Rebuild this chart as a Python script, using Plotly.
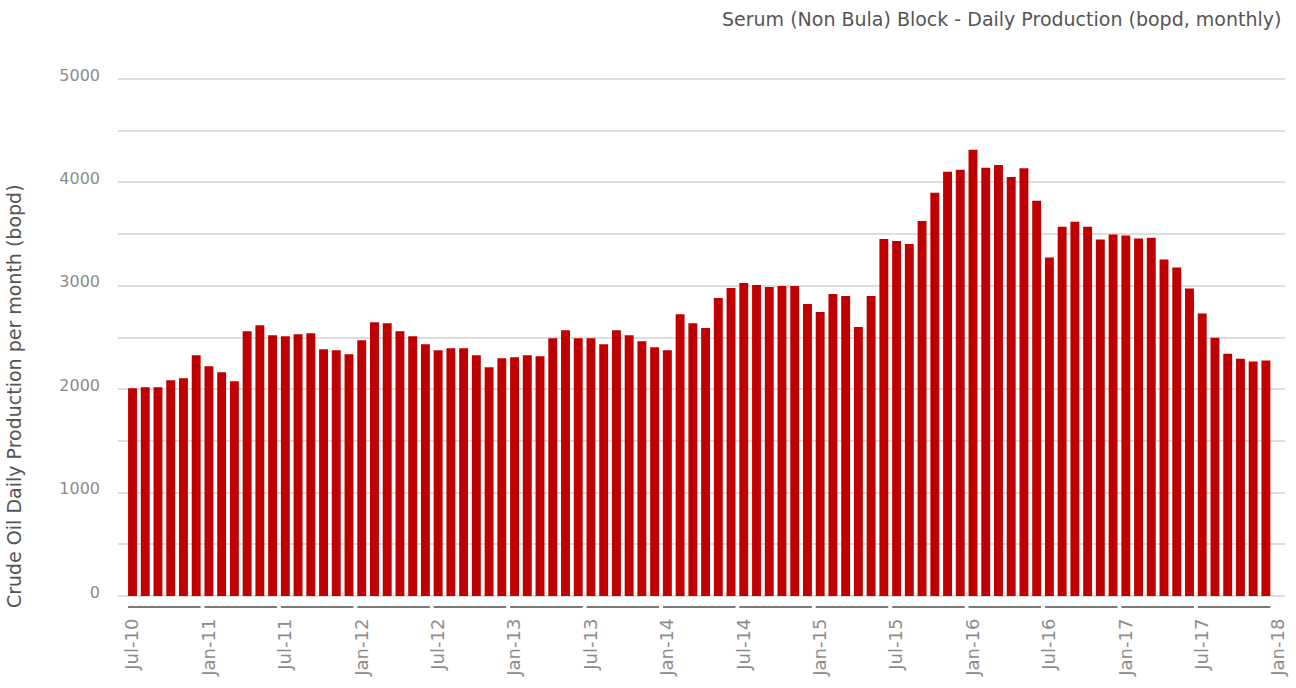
import plotly.graph_objects as go

months = ["Jan", "Feb", "Mar", "Apr", "May", "Jun", "Jul", "Aug", "Sep", "Oct", "Nov", "Dec"]

# Monthly daily production (bopd), Jul-2010 .. Dec-2017
production = [
    2010, 2019, 2019, 2087, 2106, 2329,          # Jul-10 .. Dec-10
    2223, 2165, 2077, 2561, 2619, 2523,          # Jan-11 .. Jun-11
    2513, 2532, 2542, 2387, 2377, 2339,          # Jul-11 .. Dec-11
    2474, 2648, 2639, 2561, 2513, 2435,          # Jan-12 .. Jun-12
    2377, 2397, 2397, 2329, 2213, 2300,          # Jul-12 .. Dec-12
    2310, 2329, 2319, 2494, 2571, 2494,          # Jan-13 .. Jun-13
    2494, 2435, 2571, 2523, 2465, 2406,          # Jul-13 .. Dec-13
    2377, 2726, 2639, 2591, 2882, 2979,          # Jan-14 .. Jun-14
    3028, 3008, 2989, 2999, 2999, 2824,          # Jul-14 .. Dec-14
    2747, 2921, 2902, 2602, 2902, 3454,          # Jan-15 .. Jun-15
    3434, 3405, 3628, 3899, 4103, 4122,          # Jul-15 .. Dec-15
    4316, 4141, 4168, 4052, 4138, 3823,          # Jan-16 .. Jun-16
    3273, 3572, 3620, 3572, 3448, 3496,          # Jul-16 .. Dec-16
    3486, 3458, 3465, 3255, 3176, 2973,          # Jan-17 .. Jun-17
    2732, 2498, 2343, 2295, 2268, 2278,          # Jul-17 .. Dec-17
]

start_year, start_month = 2010, 7
tick_step = 6
y_ticks = [0, 500, 1000, 1500, 2000, 2500, 3000, 3500, 4000, 4500, 5000]
y_ticktext = [str(v) if v % 1000 == 0 else "" for v in y_ticks]

title_text = "Serum (Non Bula) Block - Daily Production (bopd, monthly)"
ytitle_text = "Crude Oil Daily Production per month (bopd)"

n = len(production)
x_idx = list(range(n))

def month_label(i):
    m = start_month - 1 + i
    y = start_year + m // 12
    return f"{months[m % 12]}-{y % 100:02d}"

tickvals = list(range(0, n + 1, tick_step))
ticktext = [month_label(i) for i in tickvals]

FONT = "DejaVu Sans"

fig = go.Figure()
fig.add_trace(go.Bar(
    x=x_idx, y=production,
    marker=dict(color="#c00000", line=dict(width=0)),
    hovertext=[month_label(i) for i in x_idx],
))

# group underline segments (one per 6-month group)
shapes = []
for g in range(0, n, tick_step):
    shapes.append(dict(
        type="line", xref="x", yref="paper",
        x0=g - 0.35, x1=min(g + tick_step, n) - 1 + 0.35,
        y0=-0.021, y1=-0.021,
        line=dict(color="#7a7a7a", width=2),
    ))

fig.update_layout(
    width=1296, height=688,
    margin=dict(l=118, r=11, t=78, b=92),
    paper_bgcolor="white", plot_bgcolor="white",
    bargap=0.3,
    showlegend=False,
    font=dict(family=FONT, color="#888888"),
    shapes=shapes,
    xaxis=dict(
        range=[-1.14, 90.5], automargin=False,
        tickmode="array", tickvals=tickvals, ticktext=ticktext,
        tickangle=-90, showgrid=False, zeroline=False, showline=False,
        ticks="", ticklabelstandoff=18,
        tickfont=dict(family=FONT, size=18, color="#8c8c8c"),
    ),
    yaxis=dict(
        range=[0, 5010], automargin=False,
        tickmode="array", tickvals=y_ticks, ticktext=y_ticktext,
        showgrid=True, gridcolor="#dedede", gridwidth=1.5,
        zeroline=True, zerolinecolor="#dedede", zerolinewidth=1.5,
        showline=False, ticks="", ticklabelstandoff=17, ticklabelshift=-4,
        tickfont=dict(family=FONT, size=16, color="#8c8c8c"),
    ),
    annotations=[
        dict(text=title_text, xref="paper", yref="paper",
             x=0.998, y=1.113, xanchor="right", yanchor="middle",
             showarrow=False, font=dict(family=FONT, size=19, color="#555555")),
        dict(text=ytitle_text, xref="paper", yref="paper",
             x=-0.0891, y=0.386, xanchor="center", yanchor="middle",
             textangle=-90, showarrow=False,
             font=dict(family=FONT, size=19, color="#555555")),
    ],
)

fig.write_html("out.html", config={"displayModeBar": False},
               post_script="document.body.style.margin='0';")
